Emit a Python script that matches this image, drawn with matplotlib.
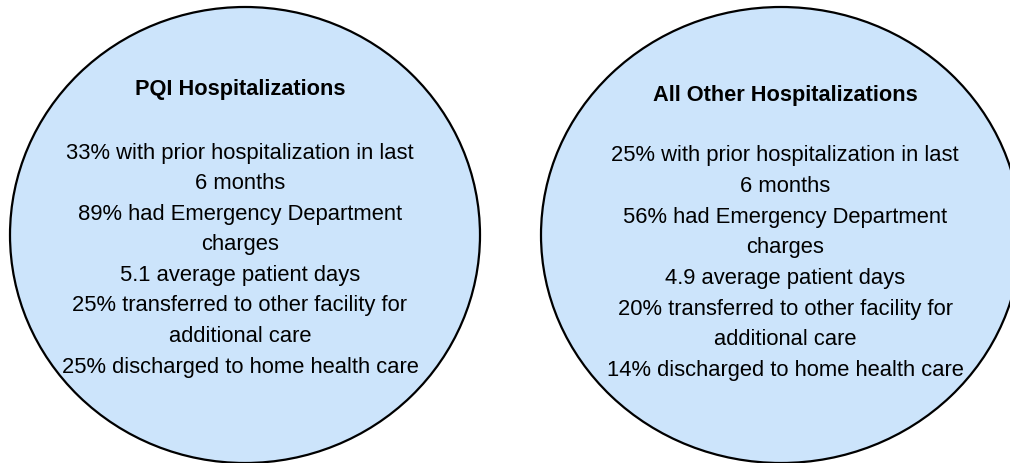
import matplotlib
matplotlib.use("Agg")
import matplotlib.pyplot as plt
from matplotlib.patches import Ellipse

plt.rcParams["font.family"] = ["Liberation Sans", "DejaVu Sans"]

# group titles and their stats
titles = ["PQI Hospitalizations", "All Other Hospitalizations"]
left_lines = [
    "33% with prior hospitalization in last",
    "6 months",
    "89% had Emergency Department",
    "charges",
    "5.1 average patient days",
    "25% transferred to other facility for",
    "additional care",
    "25% discharged to home health care",
]
right_lines = [
    "25% with prior hospitalization in last",
    "6 months",
    "56% had Emergency Department",
    "charges",
    "4.9 average patient days",
    "20% transferred to other facility for",
    "additional care",
    "14% discharged to home health care",
]

W, H = 1010, 463
fig = plt.figure(figsize=(W / 100, H / 100), dpi=100)
ax = fig.add_axes([0, 0, 1, 1])
ax.set_xlim(0, W)
ax.set_ylim(H, 0)
ax.axis("off")

fill = "#cce4fb"
bubbles = [
    # (cx, cy, width, height, title_y, first_line_y, text_x)
    (245, 235, 470, 456, 90, 153, 240, titles[0], left_lines),
    (781, 235, 480, 456, 95, 156, 785, titles[1], right_lines),
]
step = 30.6

for cx, cy, w, h, ty, ly, tx, title, lines in bubbles:
    ax.add_patch(Ellipse((cx, cy), w, h, facecolor=fill,
                         edgecolor="black", linewidth=1.6))
    ax.text(tx, ty, title, ha="center", va="center",
            fontsize=15.7, fontweight="bold")
    for i, line in enumerate(lines):
        ax.text(tx, ly + i * step, line, ha="center", va="center",
                fontsize=15.8)

fig.savefig("out.png", dpi=100)
